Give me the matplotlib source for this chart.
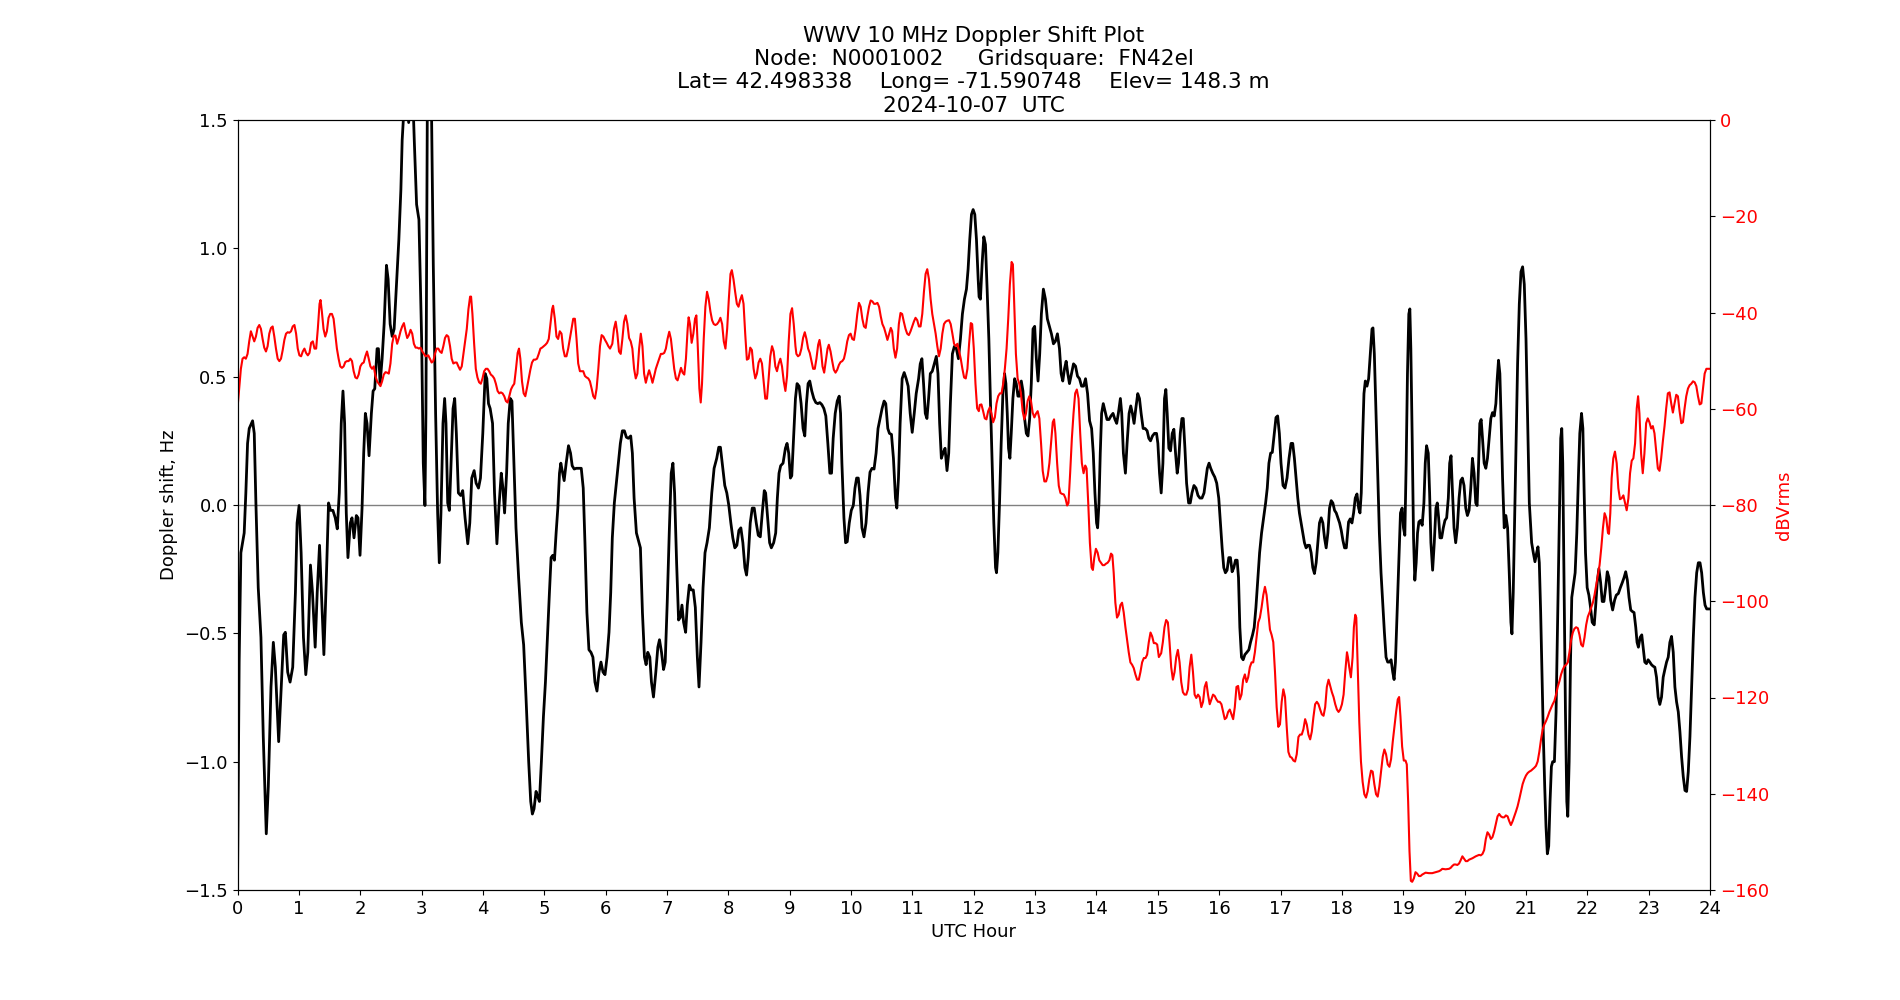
# WWV 10 MHz Doppler shift and received power over one UTC day
import matplotlib
matplotlib.use('Agg')
import matplotlib.pyplot as plt
import numpy as np

plt.rcParams['font.size'] = 13

title_lines = ['WWV 10 MHz Doppler Shift Plot',
               'Node:  N0001002     Gridsquare:  FN42el',
               'Lat= 42.498338    Long= -71.590748    Elev= 148.3 m',
               '2024-10-07  UTC']

hour_ticks = list(range(0, 25))

# (UTC hour, Doppler shift Hz)
doppler_pts = [
    (0.000, -1.49), (0.027, -0.61), (0.055, -0.186), (0.082, -0.147), (0.109, -0.109), (0.136, 0.047),
    (0.164, 0.240), (0.191, 0.298), (0.246, 0.328), (0.273, 0.279), (0.300, 0.008), (0.338, -0.322),
    (0.382, -0.516), (0.420, -0.903), (0.469, -1.281), (0.502, -1.097), (0.546, -0.709), (0.584, -0.535),
    (0.617, -0.632), (0.671, -0.922), (0.709, -0.729), (0.753, -0.506), (0.780, -0.496), (0.818, -0.651),
    (0.857, -0.690), (0.900, -0.632), (0.944, -0.341), (0.971, -0.070), (1.004, -0.002), (1.037, -0.186),
    (1.075, -0.516), (1.113, -0.661), (1.146, -0.574), (1.189, -0.234), (1.222, -0.341), (1.266, -0.554),
    (1.299, -0.341), (1.337, -0.157), (1.375, -0.380), (1.408, -0.583), (1.446, -0.302), (1.484, 0.008),
    (1.517, -0.021), (1.555, -0.021), (1.593, -0.050), (1.626, -0.093), (1.659, 0.047), (1.691, 0.318),
    (1.719, 0.444), (1.746, 0.318), (1.773, -0.031), (1.800, -0.205), (1.839, -0.070), (1.866, -0.050),
    (1.899, -0.128), (1.937, -0.041), (1.964, -0.050), (1.997, -0.196), (2.030, -0.012), (2.057, 0.202),
    (2.084, 0.357), (2.111, 0.318), (2.144, 0.192), (2.182, 0.357), (2.210, 0.444), (2.237, 0.453),
    (2.275, 0.609), (2.297, 0.609), (2.324, 0.473), (2.357, 0.570), (2.390, 0.705), (2.428, 0.934),
    (2.455, 0.880), (2.488, 0.705), (2.521, 0.657), (2.553, 0.686), (2.592, 0.860), (2.630, 1.035),
    (2.663, 1.229), (2.684, 1.422), (2.717, 1.56), (2.750, 1.62), (2.790, 1.49), (2.830, 1.62),
    (2.862, 1.56), (2.881, 1.422), (2.919, 1.171), (2.957, 1.112), (3.001, 0.647), (3.028, 0.163),
    (3.055, -0.002), (3.071, 0.357), (3.093, 1.500), (3.125, 1.65), (3.164, 1.500), (3.191, 0.938),
    (3.229, 0.357), (3.262, -0.031), (3.289, -0.225), (3.316, -0.031), (3.349, 0.318), (3.376, 0.415),
    (3.398, 0.318), (3.426, 0.008), (3.453, -0.021), (3.480, 0.163), (3.513, 0.376), (3.540, 0.415),
    (3.567, 0.279), (3.600, 0.047), (3.638, 0.037), (3.671, 0.056), (3.709, -0.050), (3.753, -0.151),
    (3.786, -0.070), (3.818, 0.105), (3.857, 0.134), (3.889, 0.085), (3.928, 0.066), (3.960, 0.105),
    (3.998, 0.279), (4.037, 0.512), (4.064, 0.492), (4.091, 0.395), (4.118, 0.376), (4.157, 0.318),
    (4.189, 0.047), (4.228, -0.151), (4.260, -0.012), (4.299, 0.124), (4.326, 0.066), (4.353, -0.031),
    (4.386, 0.124), (4.413, 0.318), (4.446, 0.415), (4.473, 0.405), (4.506, 0.163), (4.539, -0.089),
    (4.582, -0.283), (4.626, -0.457), (4.664, -0.545), (4.702, -0.748), (4.746, -1.000), (4.779, -1.155),
    (4.806, -1.204), (4.833, -1.184), (4.866, -1.116), (4.893, -1.136), (4.921, -1.155), (4.953, -1.000),
    (4.986, -0.826), (5.019, -0.690), (5.051, -0.516), (5.084, -0.341), (5.111, -0.205), (5.139, -0.196),
    (5.166, -0.215), (5.193, -0.109), (5.221, -0.012), (5.248, 0.124), (5.270, 0.163), (5.292, 0.134),
    (5.324, 0.095), (5.357, 0.163), (5.395, 0.231), (5.428, 0.202), (5.455, 0.153), (5.488, 0.140),
    (5.521, 0.143), (5.564, 0.143), (5.603, 0.143), (5.635, 0.066), (5.663, -0.147), (5.695, -0.419),
    (5.728, -0.564), (5.761, -0.574), (5.793, -0.593), (5.826, -0.690), (5.859, -0.725), (5.892, -0.651),
    (5.924, -0.612), (5.957, -0.651), (5.990, -0.661), (6.023, -0.593), (6.055, -0.496), (6.083, -0.341),
    (6.109, -0.128), (6.142, 0.008), (6.175, 0.085), (6.207, 0.163), (6.240, 0.240), (6.273, 0.289),
    (6.306, 0.289), (6.338, 0.264), (6.371, 0.260), (6.409, 0.269), (6.436, 0.202), (6.464, 0.027),
    (6.502, -0.109), (6.535, -0.138), (6.567, -0.167), (6.600, -0.419), (6.633, -0.593), (6.660, -0.622),
    (6.687, -0.574), (6.720, -0.593), (6.747, -0.690), (6.780, -0.748), (6.818, -0.651), (6.851, -0.554),
    (6.878, -0.525), (6.911, -0.574), (6.944, -0.641), (6.971, -0.612), (7.004, -0.380), (7.037, -0.109),
    (7.069, 0.124), (7.097, 0.163), (7.124, 0.047), (7.157, -0.225), (7.189, -0.448), (7.217, -0.438),
    (7.244, -0.390), (7.271, -0.457), (7.304, -0.496), (7.331, -0.390), (7.364, -0.312), (7.397, -0.331),
    (7.429, -0.331), (7.462, -0.399), (7.495, -0.593), (7.522, -0.709), (7.555, -0.535), (7.588, -0.322),
    (7.620, -0.186), (7.653, -0.147), (7.691, -0.089), (7.730, 0.047), (7.768, 0.143), (7.811, 0.182),
    (7.844, 0.225), (7.871, 0.225), (7.910, 0.143), (7.942, 0.076), (7.975, 0.047), (8.008, -0.002),
    (8.041, -0.070), (8.073, -0.128), (8.106, -0.167), (8.139, -0.157), (8.172, -0.099), (8.204, -0.089),
    (8.237, -0.147), (8.270, -0.244), (8.297, -0.273), (8.324, -0.205), (8.357, -0.070), (8.390, -0.012),
    (8.422, -0.012), (8.455, -0.070), (8.488, -0.118), (8.521, -0.124), (8.553, -0.031), (8.586, 0.056),
    (8.608, 0.047), (8.641, -0.050), (8.673, -0.147), (8.701, -0.167), (8.739, -0.147), (8.772, -0.109),
    (8.799, 0.027), (8.826, 0.124), (8.853, 0.153), (8.892, 0.163), (8.930, 0.221), (8.957, 0.240),
    (8.984, 0.202), (9.012, 0.105), (9.034, 0.114), (9.066, 0.279), (9.094, 0.415), (9.120, 0.473),
    (9.153, 0.463), (9.186, 0.395), (9.218, 0.298), (9.246, 0.269), (9.273, 0.395), (9.300, 0.473),
    (9.327, 0.483), (9.360, 0.444), (9.393, 0.415), (9.426, 0.399), (9.458, 0.395), (9.491, 0.399),
    (9.524, 0.391), (9.557, 0.376), (9.589, 0.347), (9.622, 0.240), (9.655, 0.124), (9.682, 0.124),
    (9.709, 0.260), (9.742, 0.357), (9.775, 0.405), (9.807, 0.424), (9.829, 0.357), (9.851, 0.163),
    (9.884, -0.050), (9.911, -0.147), (9.938, -0.143), (9.971, -0.070), (10.004, -0.021), (10.037, -0.002),
    (10.064, 0.066), (10.091, 0.105), (10.118, 0.105), (10.146, 0.037), (10.178, -0.089), (10.211, -0.124),
    (10.244, -0.070), (10.277, 0.047), (10.309, 0.128), (10.342, 0.143), (10.375, 0.140), (10.408, 0.202),
    (10.440, 0.298), (10.473, 0.337), (10.506, 0.376), (10.539, 0.405), (10.566, 0.395), (10.599, 0.298),
    (10.626, 0.279), (10.659, 0.275), (10.691, 0.182), (10.724, 0.027), (10.746, -0.012), (10.773, 0.105),
    (10.800, 0.318), (10.833, 0.492), (10.866, 0.516), (10.899, 0.492), (10.931, 0.463), (10.964, 0.357),
    (10.997, 0.283), (11.030, 0.357), (11.062, 0.434), (11.101, 0.492), (11.128, 0.550), (11.155, 0.570),
    (11.182, 0.473), (11.210, 0.357), (11.237, 0.337), (11.264, 0.415), (11.292, 0.512), (11.324, 0.521),
    (11.357, 0.550), (11.390, 0.579), (11.417, 0.512), (11.444, 0.318), (11.472, 0.182), (11.499, 0.202),
    (11.532, 0.221), (11.564, 0.134), (11.592, 0.202), (11.619, 0.395), (11.652, 0.589), (11.684, 0.618),
    (11.717, 0.609), (11.750, 0.570), (11.783, 0.647), (11.815, 0.744), (11.848, 0.802), (11.881, 0.841),
    (11.908, 0.919), (11.935, 1.035), (11.963, 1.132), (11.990, 1.151), (12.017, 1.132), (12.044, 1.035),
    (12.072, 0.880), (12.087, 0.811), (12.109, 0.802), (12.136, 0.938), (12.164, 1.045), (12.191, 1.015),
    (12.218, 0.841), (12.246, 0.647), (12.273, 0.395), (12.300, 0.163), (12.327, -0.070), (12.355, -0.244),
    (12.371, -0.264), (12.393, -0.186), (12.420, 0.008), (12.447, 0.240), (12.475, 0.434), (12.502, 0.512),
    (12.524, 0.473), (12.546, 0.357), (12.567, 0.221), (12.589, 0.182), (12.611, 0.279), (12.638, 0.415),
    (12.666, 0.492), (12.693, 0.473), (12.720, 0.424), (12.747, 0.424), (12.775, 0.483), (12.802, 0.444),
    (12.829, 0.337), (12.857, 0.279), (12.884, 0.269), (12.911, 0.337), (12.938, 0.473), (12.966, 0.686),
    (12.993, 0.696), (13.020, 0.570), (13.048, 0.483), (13.075, 0.589), (13.102, 0.744), (13.135, 0.841),
    (13.168, 0.802), (13.200, 0.725), (13.233, 0.696), (13.266, 0.667), (13.299, 0.628), (13.331, 0.638),
    (13.364, 0.667), (13.397, 0.609), (13.424, 0.512), (13.451, 0.483), (13.479, 0.531), (13.506, 0.560),
    (13.533, 0.512), (13.560, 0.473), (13.593, 0.512), (13.626, 0.550), (13.659, 0.541), (13.691, 0.502),
    (13.724, 0.492), (13.757, 0.463), (13.790, 0.463), (13.822, 0.492), (13.855, 0.434), (13.888, 0.328),
    (13.921, 0.298), (13.948, 0.202), (13.975, 0.047), (14.002, -0.070), (14.019, -0.089), (14.041, 0.008),
    (14.062, 0.202), (14.084, 0.357), (14.111, 0.395), (14.139, 0.366), (14.172, 0.333), (14.204, 0.333),
    (14.237, 0.347), (14.270, 0.357), (14.302, 0.333), (14.330, 0.318), (14.357, 0.357), (14.390, 0.415),
    (14.412, 0.357), (14.439, 0.202), (14.472, 0.124), (14.499, 0.240), (14.532, 0.357), (14.559, 0.386),
    (14.586, 0.357), (14.613, 0.318), (14.641, 0.376), (14.673, 0.434), (14.701, 0.415), (14.728, 0.357),
    (14.761, 0.298), (14.793, 0.298), (14.826, 0.289), (14.853, 0.260), (14.881, 0.250), (14.913, 0.269),
    (14.946, 0.279), (14.979, 0.279), (15.001, 0.240), (15.028, 0.124), (15.055, 0.047), (15.083, 0.163),
    (15.109, 0.415), (15.131, 0.450), (15.153, 0.357), (15.180, 0.221), (15.207, 0.211), (15.235, 0.279),
    (15.262, 0.295), (15.289, 0.202), (15.316, 0.124), (15.338, 0.163), (15.366, 0.279), (15.393, 0.337),
    (15.415, 0.337), (15.442, 0.221), (15.469, 0.085), (15.502, 0.008), (15.529, 0.008), (15.557, 0.047),
    (15.589, 0.076), (15.622, 0.066), (15.655, 0.037), (15.687, 0.027), (15.720, 0.027), (15.753, 0.047),
    (15.780, 0.095), (15.807, 0.143), (15.835, 0.163), (15.862, 0.143), (15.895, 0.124), (15.928, 0.109),
    (15.960, 0.085), (15.993, 0.027), (16.020, -0.070), (16.048, -0.167), (16.075, -0.244), (16.102, -0.264),
    (16.129, -0.254), (16.157, -0.205), (16.184, -0.205), (16.211, -0.260), (16.239, -0.244), (16.266, -0.215),
    (16.293, -0.215), (16.315, -0.283), (16.337, -0.477), (16.364, -0.593), (16.391, -0.603), (16.419, -0.583),
    (16.451, -0.574), (16.484, -0.564), (16.511, -0.535), (16.544, -0.506), (16.571, -0.477), (16.599, -0.399),
    (16.626, -0.302), (16.659, -0.186), (16.691, -0.109), (16.724, -0.050), (16.757, 0.008), (16.784, 0.066),
    (16.811, 0.163), (16.839, 0.202), (16.866, 0.205), (16.899, 0.279), (16.926, 0.341), (16.953, 0.347),
    (16.981, 0.279), (17.008, 0.163), (17.041, 0.076), (17.073, 0.066), (17.106, 0.105), (17.139, 0.182),
    (17.172, 0.240), (17.199, 0.240), (17.226, 0.182), (17.253, 0.105), (17.281, 0.027), (17.308, -0.031),
    (17.335, -0.070), (17.362, -0.109), (17.390, -0.147), (17.417, -0.167), (17.444, -0.157), (17.472, -0.157),
    (17.499, -0.186), (17.526, -0.244), (17.553, -0.267), (17.581, -0.225), (17.608, -0.147), (17.635, -0.070),
    (17.663, -0.050), (17.690, -0.070), (17.717, -0.128), (17.744, -0.167), (17.772, -0.109), (17.799, -0.012),
    (17.826, 0.017), (17.853, 0.008), (17.881, -0.021), (17.908, -0.031), (17.935, -0.050), (17.963, -0.070),
    (17.990, -0.099), (18.017, -0.138), (18.044, -0.167), (18.072, -0.167), (18.109, -0.066), (18.136, -0.054),
    (18.164, -0.070), (18.191, -0.031), (18.218, 0.027), (18.246, 0.043), (18.273, -0.012), (18.295, -0.031),
    (18.316, 0.047), (18.338, 0.260), (18.360, 0.434), (18.382, 0.483), (18.409, 0.463), (18.436, 0.492),
    (18.464, 0.589), (18.491, 0.686), (18.507, 0.690), (18.529, 0.589), (18.557, 0.357), (18.584, 0.124),
    (18.611, -0.109), (18.638, -0.264), (18.666, -0.380), (18.693, -0.496), (18.720, -0.593), (18.747, -0.612),
    (18.775, -0.612), (18.802, -0.603), (18.829, -0.651), (18.851, -0.680), (18.873, -0.612), (18.900, -0.419),
    (18.928, -0.225), (18.955, -0.031), (18.982, -0.012), (19.004, -0.089), (19.026, -0.118), (19.048, 0.163),
    (19.069, 0.512), (19.091, 0.744), (19.108, 0.764), (19.124, 0.609), (19.146, 0.260), (19.168, -0.128),
    (19.189, -0.293), (19.211, -0.225), (19.233, -0.109), (19.255, -0.066), (19.282, -0.060), (19.309, -0.079),
    (19.337, 0.008), (19.359, 0.163), (19.380, 0.231), (19.408, 0.202), (19.430, 0.047), (19.451, -0.147),
    (19.479, -0.254), (19.506, -0.147), (19.533, -0.012), (19.555, 0.008), (19.577, -0.050), (19.599, -0.128),
    (19.626, -0.128), (19.653, -0.089), (19.680, -0.060), (19.708, -0.050), (19.735, 0.027), (19.757, 0.163),
    (19.779, 0.192), (19.800, 0.066), (19.828, -0.089), (19.855, -0.147), (19.882, -0.089), (19.910, 0.027),
    (19.937, 0.095), (19.964, 0.105), (19.991, 0.076), (20.019, -0.012), (20.046, -0.041), (20.073, -0.021),
    (20.101, 0.066), (20.128, 0.182), (20.155, 0.124), (20.182, 0.008), (20.204, -0.002), (20.226, 0.143),
    (20.248, 0.318), (20.270, 0.333), (20.292, 0.260), (20.319, 0.163), (20.346, 0.143), (20.373, 0.182),
    (20.401, 0.260), (20.428, 0.337), (20.455, 0.360), (20.483, 0.347), (20.510, 0.395), (20.532, 0.492),
    (20.553, 0.564), (20.575, 0.512), (20.597, 0.318), (20.619, 0.105), (20.646, -0.089), (20.673, -0.041),
    (20.701, -0.089), (20.728, -0.264), (20.755, -0.457), (20.772, -0.502), (20.793, -0.341), (20.815, -0.070),
    (20.837, 0.202), (20.864, 0.550), (20.892, 0.783), (20.919, 0.909), (20.946, 0.928), (20.973, 0.860),
    (21.001, 0.647), (21.028, 0.318), (21.055, 0.008), (21.083, -0.109), (21.093, -0.147), (21.120, -0.186),
    (21.147, -0.221), (21.175, -0.186), (21.196, -0.163), (21.218, -0.225), (21.240, -0.419), (21.262, -0.671),
    (21.284, -0.903), (21.306, -1.097), (21.327, -1.252), (21.349, -1.359), (21.371, -1.329), (21.393, -1.155),
    (21.415, -1.019), (21.436, -1.000), (21.464, -1.000), (21.491, -0.806), (21.518, -0.419), (21.546, -0.031),
    (21.567, 0.260), (21.584, 0.298), (21.600, 0.163), (21.622, -0.322), (21.644, -0.806), (21.666, -1.155),
    (21.682, -1.213), (21.704, -1.000), (21.726, -0.612), (21.747, -0.360), (21.775, -0.312), (21.802, -0.264),
    (21.829, -0.109), (21.857, 0.124), (21.878, 0.279), (21.906, 0.357), (21.928, 0.298), (21.949, 0.047),
    (21.971, -0.186), (21.998, -0.322), (22.026, -0.351), (22.053, -0.399), (22.080, -0.457), (22.113, -0.467),
    (22.135, -0.399), (22.162, -0.302), (22.189, -0.248), (22.217, -0.302), (22.244, -0.376), (22.271, -0.376),
    (22.299, -0.322), (22.326, -0.260), (22.353, -0.283), (22.380, -0.370), (22.413, -0.409), (22.446, -0.370),
    (22.473, -0.351), (22.506, -0.345), (22.539, -0.322), (22.571, -0.302), (22.599, -0.283), (22.626, -0.260),
    (22.653, -0.293), (22.680, -0.360), (22.708, -0.409), (22.735, -0.415), (22.762, -0.419), (22.790, -0.477),
    (22.811, -0.535), (22.833, -0.554), (22.861, -0.516), (22.888, -0.506), (22.910, -0.554), (22.937, -0.612),
    (22.964, -0.618), (22.991, -0.603), (23.019, -0.612), (23.046, -0.622), (23.073, -0.628), (23.101, -0.632),
    (23.128, -0.671), (23.155, -0.748), (23.182, -0.777), (23.210, -0.748), (23.237, -0.671), (23.264, -0.641),
    (23.292, -0.612), (23.319, -0.593), (23.346, -0.535), (23.373, -0.512), (23.401, -0.574), (23.428, -0.709),
    (23.455, -0.767), (23.483, -0.806), (23.510, -0.884), (23.537, -0.981), (23.564, -1.058), (23.592, -1.112),
    (23.619, -1.116), (23.646, -1.039), (23.673, -0.903), (23.701, -0.709), (23.728, -0.516), (23.755, -0.360),
    (23.783, -0.264), (23.810, -0.225), (23.837, -0.225), (23.864, -0.264), (23.892, -0.341), (23.919, -0.390),
    (23.946, -0.405), (24.000, -0.405),
]

# (UTC hour, received level dBVrms)
power_pts = [
    (0.000, -59.9), (0.027, -55.8), (0.055, -51.7), (0.082, -49.6), (0.109, -49.3), (0.136, -49.6),
    (0.164, -48.6), (0.191, -46.0), (0.218, -43.9), (0.246, -45.0), (0.273, -46.0), (0.300, -45.0),
    (0.327, -43.2), (0.355, -42.6), (0.382, -43.4), (0.409, -45.5), (0.436, -47.3), (0.464, -48.1),
    (0.491, -47.0), (0.518, -44.4), (0.546, -43.2), (0.573, -42.9), (0.600, -45.0), (0.627, -47.5),
    (0.655, -49.6), (0.682, -50.1), (0.709, -49.6), (0.737, -47.8), (0.764, -45.7), (0.791, -44.4),
    (0.818, -44.1), (0.846, -44.2), (0.873, -43.9), (0.900, -42.9), (0.928, -42.6), (0.955, -44.4),
    (0.982, -47.5), (1.009, -48.9), (1.037, -49.1), (1.064, -48.1), (1.091, -47.5), (1.118, -48.4),
    (1.146, -48.9), (1.173, -48.4), (1.200, -46.3), (1.228, -46.0), (1.255, -47.5), (1.282, -47.5),
    (1.309, -43.4), (1.337, -38.2), (1.353, -37.4), (1.375, -39.8), (1.402, -43.4), (1.430, -45.0),
    (1.457, -43.9), (1.484, -41.1), (1.511, -40.3), (1.539, -40.3), (1.566, -41.3), (1.593, -44.4),
    (1.620, -47.5), (1.648, -49.6), (1.675, -51.2), (1.702, -51.5), (1.730, -51.2), (1.757, -50.3),
    (1.784, -50.1), (1.811, -50.1), (1.839, -49.6), (1.866, -50.1), (1.893, -52.2), (1.921, -53.5),
    (1.948, -53.7), (1.975, -52.9), (2.002, -51.2), (2.030, -50.6), (2.057, -50.4), (2.084, -49.1),
    (2.111, -48.1), (2.139, -49.6), (2.166, -51.2), (2.193, -51.7), (2.221, -51.2), (2.248, -53.2),
    (2.275, -54.3), (2.302, -54.8), (2.330, -55.3), (2.357, -54.3), (2.384, -52.9), (2.412, -52.4),
    (2.439, -52.5), (2.466, -52.7), (2.493, -50.6), (2.521, -46.5), (2.548, -44.8), (2.575, -44.8),
    (2.602, -46.5), (2.630, -45.3), (2.657, -43.9), (2.684, -42.9), (2.712, -42.2), (2.739, -43.9),
    (2.766, -45.3), (2.793, -44.7), (2.821, -43.6), (2.848, -44.4), (2.875, -46.5), (2.903, -47.3),
    (2.930, -47.3), (2.957, -47.5), (2.984, -47.3), (3.012, -48.1), (3.039, -48.6), (3.066, -49.1),
    (3.109, -48.9), (3.136, -49.6), (3.164, -50.4), (3.191, -50.1), (3.218, -48.6), (3.246, -47.5),
    (3.273, -47.5), (3.300, -48.1), (3.327, -48.4), (3.355, -47.0), (3.382, -45.3), (3.409, -44.7),
    (3.436, -45.0), (3.464, -47.0), (3.491, -49.6), (3.518, -50.6), (3.546, -50.4), (3.573, -50.4),
    (3.600, -51.2), (3.627, -51.9), (3.655, -51.2), (3.682, -48.6), (3.709, -46.0), (3.737, -43.4),
    (3.764, -39.3), (3.791, -36.7), (3.807, -36.7), (3.829, -40.3), (3.857, -46.5), (3.884, -51.7),
    (3.911, -53.5), (3.938, -54.5), (3.966, -54.8), (3.993, -53.7), (4.020, -52.2), (4.048, -51.7),
    (4.075, -51.7), (4.102, -52.2), (4.129, -52.9), (4.157, -53.2), (4.184, -53.7), (4.211, -54.8),
    (4.239, -56.3), (4.266, -56.8), (4.293, -56.6), (4.320, -56.8), (4.348, -57.4), (4.375, -58.4),
    (4.402, -58.7), (4.430, -57.4), (4.457, -56.0), (4.484, -55.3), (4.511, -54.8), (4.539, -51.7),
    (4.566, -48.4), (4.588, -47.5), (4.610, -49.6), (4.637, -54.3), (4.664, -56.8), (4.691, -57.4),
    (4.719, -55.6), (4.746, -53.7), (4.773, -51.9), (4.800, -50.4), (4.828, -49.8), (4.855, -49.8),
    (4.882, -49.6), (4.910, -48.6), (4.937, -47.5), (4.964, -47.3), (4.991, -47.0), (5.019, -46.7),
    (5.046, -46.3), (5.073, -45.5), (5.101, -42.4), (5.128, -39.3), (5.144, -38.6), (5.172, -41.3),
    (5.199, -45.0), (5.226, -45.5), (5.253, -43.9), (5.281, -44.4), (5.308, -47.5), (5.335, -49.1),
    (5.362, -49.1), (5.390, -47.5), (5.417, -45.5), (5.444, -43.4), (5.472, -41.3), (5.499, -41.3),
    (5.526, -45.5), (5.553, -50.6), (5.581, -52.2), (5.608, -52.2), (5.635, -52.2), (5.663, -53.2),
    (5.690, -53.5), (5.717, -53.7), (5.744, -54.3), (5.772, -55.8), (5.799, -57.4), (5.826, -57.9),
    (5.853, -55.8), (5.881, -51.7), (5.908, -47.0), (5.935, -44.7), (5.963, -45.0), (5.990, -45.7),
    (6.017, -46.3), (6.044, -47.0), (6.072, -47.5), (6.109, -46.5), (6.136, -43.4), (6.164, -41.9),
    (6.191, -44.4), (6.218, -48.1), (6.246, -48.6), (6.273, -45.5), (6.300, -41.9), (6.327, -40.6),
    (6.355, -42.4), (6.382, -45.3), (6.409, -46.0), (6.436, -47.5), (6.464, -51.7), (6.491, -53.7),
    (6.518, -52.7), (6.546, -47.5), (6.573, -44.4), (6.600, -47.0), (6.627, -52.7), (6.655, -54.6),
    (6.682, -53.2), (6.709, -52.0), (6.737, -53.2), (6.764, -54.6), (6.791, -53.2), (6.818, -51.7),
    (6.846, -50.6), (6.873, -49.6), (6.900, -48.6), (6.928, -48.6), (6.955, -48.4), (6.982, -47.5),
    (7.009, -45.5), (7.037, -44.0), (7.064, -45.5), (7.091, -48.6), (7.118, -51.7), (7.146, -53.7),
    (7.173, -54.1), (7.200, -52.9), (7.228, -51.5), (7.255, -52.5), (7.282, -52.9), (7.309, -49.6),
    (7.337, -43.4), (7.353, -41.0), (7.375, -42.4), (7.402, -46.3), (7.430, -44.4), (7.457, -41.3),
    (7.479, -40.6), (7.500, -46.5), (7.528, -55.8), (7.550, -58.7), (7.571, -54.8), (7.599, -45.5),
    (7.626, -38.8), (7.653, -35.7), (7.680, -37.2), (7.708, -39.8), (7.735, -41.6), (7.762, -42.4),
    (7.790, -42.6), (7.817, -42.4), (7.844, -41.9), (7.871, -41.1), (7.899, -42.4), (7.926, -46.0),
    (7.953, -47.5), (7.981, -43.4), (8.008, -37.2), (8.035, -32.0), (8.057, -31.2), (8.084, -33.1),
    (8.111, -35.7), (8.139, -38.2), (8.166, -38.8), (8.193, -37.4), (8.221, -36.4), (8.248, -38.2),
    (8.275, -44.4), (8.302, -49.8), (8.330, -49.6), (8.357, -47.3), (8.384, -47.8), (8.412, -51.7),
    (8.439, -53.7), (8.466, -52.7), (8.493, -50.4), (8.521, -49.6), (8.548, -50.6), (8.575, -54.3),
    (8.602, -57.9), (8.630, -57.9), (8.657, -53.7), (8.684, -49.1), (8.712, -47.0), (8.739, -48.1),
    (8.766, -51.2), (8.793, -52.2), (8.821, -50.6), (8.848, -49.6), (8.875, -51.2), (8.903, -54.3),
    (8.930, -56.3), (8.957, -53.2), (8.984, -46.0), (9.012, -40.3), (9.039, -39.1), (9.066, -42.4),
    (9.094, -47.0), (9.109, -48.6), (9.136, -49.1), (9.164, -48.8), (9.191, -47.5), (9.218, -45.3),
    (9.246, -44.1), (9.273, -45.5), (9.300, -47.5), (9.327, -48.4), (9.355, -50.1), (9.382, -51.7),
    (9.409, -51.7), (9.436, -49.6), (9.464, -46.7), (9.486, -45.7), (9.507, -47.5), (9.535, -51.2),
    (9.562, -52.5), (9.589, -50.1), (9.617, -47.5), (9.638, -46.7), (9.666, -48.1), (9.693, -50.1),
    (9.720, -51.9), (9.747, -52.5), (9.775, -51.9), (9.802, -50.9), (9.829, -50.3), (9.857, -50.1),
    (9.884, -49.6), (9.911, -48.1), (9.938, -46.0), (9.966, -44.7), (9.993, -44.4), (10.020, -45.5),
    (10.048, -45.7), (10.075, -43.4), (10.102, -40.3), (10.129, -38.0), (10.157, -38.8), (10.184, -41.3),
    (10.211, -42.9), (10.239, -43.2), (10.266, -40.8), (10.293, -38.8), (10.320, -37.5), (10.348, -37.7),
    (10.375, -38.2), (10.402, -38.2), (10.430, -38.0), (10.457, -38.8), (10.484, -40.8), (10.511, -42.4),
    (10.539, -43.2), (10.566, -44.4), (10.593, -45.7), (10.621, -44.4), (10.648, -43.2), (10.670, -43.9),
    (10.697, -47.5), (10.724, -49.4), (10.751, -47.5), (10.779, -42.4), (10.806, -40.1), (10.833, -40.3),
    (10.860, -41.9), (10.888, -43.4), (10.915, -44.4), (10.942, -44.7), (10.970, -43.9), (10.997, -42.9),
    (11.024, -41.9), (11.051, -41.1), (11.079, -41.6), (11.106, -42.9), (11.133, -42.9), (11.161, -40.3),
    (11.188, -35.7), (11.215, -32.0), (11.242, -31.0), (11.270, -33.1), (11.297, -37.2), (11.324, -40.3),
    (11.352, -42.4), (11.379, -44.4), (11.406, -47.0), (11.433, -49.1), (11.461, -47.5), (11.488, -44.4),
    (11.515, -42.4), (11.542, -41.9), (11.570, -41.7), (11.597, -41.6), (11.624, -42.4), (11.652, -44.4),
    (11.679, -46.5), (11.706, -47.0), (11.733, -46.5), (11.761, -48.1), (11.788, -49.6), (11.815, -51.7),
    (11.843, -53.5), (11.870, -53.7), (11.897, -51.7), (11.924, -46.5), (11.952, -42.2), (11.974, -42.4),
    (12.001, -47.5), (12.028, -54.8), (12.055, -59.9), (12.083, -60.5), (12.098, -59.2), (12.125, -59.1),
    (12.153, -60.5), (12.180, -62.0), (12.207, -62.2), (12.235, -60.5), (12.262, -59.7), (12.289, -61.0),
    (12.316, -62.8), (12.344, -61.8), (12.371, -58.9), (12.398, -57.4), (12.426, -56.8), (12.453, -56.8),
    (12.480, -54.8), (12.507, -51.7), (12.535, -47.5), (12.562, -41.3), (12.589, -34.1), (12.617, -29.5),
    (12.638, -30.0), (12.660, -38.2), (12.687, -48.6), (12.715, -53.7), (12.742, -54.8), (12.769, -56.8),
    (12.797, -60.5), (12.824, -62.2), (12.851, -61.0), (12.878, -58.4), (12.906, -57.4), (12.933, -58.4),
    (12.960, -60.8), (12.988, -61.8), (13.015, -61.0), (13.042, -60.5), (13.069, -62.0), (13.097, -67.2),
    (13.124, -72.9), (13.151, -75.1), (13.179, -75.1), (13.206, -73.9), (13.233, -71.3), (13.260, -67.2),
    (13.288, -62.8), (13.309, -62.2), (13.331, -65.1), (13.359, -71.3), (13.386, -76.0), (13.413, -77.5),
    (13.440, -77.7), (13.468, -77.8), (13.495, -78.6), (13.522, -80.1), (13.544, -79.6), (13.571, -73.4),
    (13.599, -66.2), (13.626, -61.0), (13.653, -56.8), (13.680, -56.0), (13.708, -57.9), (13.735, -65.1),
    (13.762, -71.3), (13.790, -73.4), (13.817, -71.8), (13.839, -72.4), (13.866, -79.6), (13.893, -87.9),
    (13.921, -93.0), (13.942, -93.5), (13.964, -91.0), (13.991, -89.1), (14.019, -89.9), (14.046, -91.5),
    (14.073, -92.0), (14.101, -92.5), (14.128, -92.5), (14.155, -92.2), (14.182, -92.0), (14.210, -91.5),
    (14.237, -90.1), (14.259, -90.4), (14.281, -94.1), (14.308, -100.3), (14.335, -103.4), (14.362, -102.8),
    (14.390, -100.8), (14.417, -100.3), (14.444, -102.3), (14.472, -105.4), (14.499, -108.0), (14.526, -110.6),
    (14.553, -112.7), (14.581, -113.2), (14.608, -113.9), (14.635, -115.2), (14.663, -116.3), (14.690, -116.3),
    (14.717, -114.7), (14.744, -112.7), (14.772, -111.8), (14.799, -111.8), (14.826, -111.1), (14.853, -108.5),
    (14.881, -106.5), (14.908, -107.3), (14.935, -108.7), (14.963, -108.7), (14.990, -109.0), (15.017, -111.6),
    (15.055, -110.8), (15.082, -108.5), (15.109, -105.4), (15.136, -103.9), (15.164, -104.4), (15.191, -108.5),
    (15.218, -113.7), (15.246, -116.3), (15.273, -114.7), (15.300, -111.6), (15.327, -110.1), (15.355, -112.7),
    (15.382, -116.8), (15.409, -118.9), (15.436, -119.4), (15.464, -119.4), (15.491, -118.3), (15.518, -113.7),
    (15.546, -111.1), (15.573, -114.7), (15.600, -119.4), (15.627, -120.1), (15.655, -119.4), (15.682, -119.9),
    (15.709, -122.0), (15.737, -120.9), (15.764, -117.8), (15.791, -116.8), (15.818, -119.4), (15.846, -121.4),
    (15.873, -120.4), (15.900, -119.4), (15.928, -119.7), (15.955, -120.4), (15.982, -120.9), (16.009, -120.9),
    (16.037, -121.4), (16.064, -123.0), (16.091, -124.5), (16.118, -124.2), (16.146, -123.0), (16.173, -122.5),
    (16.200, -123.5), (16.228, -124.5), (16.255, -122.0), (16.282, -117.8), (16.309, -117.6), (16.337, -120.4),
    (16.364, -119.4), (16.391, -116.3), (16.419, -115.2), (16.446, -116.8), (16.473, -115.8), (16.500, -113.7),
    (16.528, -112.7), (16.555, -112.7), (16.582, -110.6), (16.609, -107.5), (16.637, -104.4), (16.664, -103.4),
    (16.691, -101.3), (16.719, -98.7), (16.746, -97.0), (16.773, -98.7), (16.800, -102.3), (16.828, -105.9),
    (16.855, -107.0), (16.882, -108.5), (16.910, -114.7), (16.937, -122.0), (16.964, -126.1), (16.991, -125.6),
    (17.019, -120.9), (17.046, -118.3), (17.073, -119.9), (17.101, -126.1), (17.128, -131.3), (17.155, -132.3),
    (17.182, -132.5), (17.210, -133.1), (17.237, -133.3), (17.264, -131.8), (17.292, -128.2), (17.319, -127.7),
    (17.346, -127.7), (17.373, -126.6), (17.401, -124.5), (17.428, -125.6), (17.455, -127.7), (17.483, -128.7),
    (17.510, -127.1), (17.537, -124.0), (17.564, -121.4), (17.592, -120.9), (17.619, -121.4), (17.646, -122.5),
    (17.673, -123.5), (17.701, -123.8), (17.728, -122.0), (17.755, -117.8), (17.783, -116.3), (17.810, -117.6),
    (17.837, -118.9), (17.864, -119.9), (17.892, -121.4), (17.919, -122.5), (17.946, -123.0), (17.973, -122.5),
    (18.001, -121.4), (18.028, -119.4), (18.055, -114.7), (18.083, -110.6), (18.098, -111.6), (18.120, -113.7),
    (18.147, -115.8), (18.175, -111.6), (18.196, -105.4), (18.218, -102.8), (18.235, -103.4), (18.256, -112.7),
    (18.284, -125.1), (18.311, -133.3), (18.338, -137.5), (18.366, -140.1), (18.393, -140.8), (18.420, -139.5),
    (18.447, -137.0), (18.475, -135.2), (18.502, -135.4), (18.529, -138.0), (18.557, -140.1), (18.584, -140.6),
    (18.611, -138.5), (18.638, -135.4), (18.666, -132.3), (18.693, -130.8), (18.720, -131.8), (18.747, -133.9),
    (18.775, -134.4), (18.802, -132.8), (18.829, -129.2), (18.857, -126.1), (18.884, -123.0), (18.911, -120.4),
    (18.933, -119.9), (18.955, -124.0), (18.982, -130.2), (19.009, -133.1), (19.037, -133.1), (19.058, -133.9),
    (19.080, -141.6), (19.102, -151.9), (19.124, -158.1), (19.146, -158.3), (19.173, -157.6), (19.200, -156.3),
    (19.228, -156.6), (19.255, -157.1), (19.282, -157.1), (19.309, -156.8), (19.337, -156.6), (19.364, -156.4),
    (19.419, -156.5), (19.473, -156.5), (19.528, -156.3), (19.582, -156.1), (19.610, -155.9), (19.637, -155.6),
    (19.691, -155.7), (19.746, -155.6), (19.773, -155.4), (19.800, -155.0), (19.828, -154.7), (19.855, -154.7),
    (19.882, -154.8), (19.910, -154.5), (19.937, -153.8), (19.964, -153.0), (19.991, -153.5), (20.019, -154.0),
    (20.046, -154.0), (20.073, -153.7), (20.128, -153.4), (20.182, -153.0), (20.237, -152.7), (20.264, -152.8),
    (20.292, -152.5), (20.319, -151.7), (20.346, -149.4), (20.373, -148.0), (20.401, -148.5), (20.428, -149.4),
    (20.455, -149.0), (20.483, -147.8), (20.510, -146.3), (20.537, -144.7), (20.564, -144.2), (20.592, -144.7),
    (20.619, -144.9), (20.646, -144.9), (20.673, -144.5), (20.701, -144.7), (20.728, -145.7), (20.755, -146.5),
    (20.783, -145.7), (20.810, -144.7), (20.837, -143.7), (20.864, -142.6), (20.892, -141.1), (20.919, -139.5),
    (20.946, -138.0), (20.973, -137.0), (21.001, -136.2), (21.028, -135.7), (21.055, -135.4), (21.083, -135.2),
    (21.109, -134.9), (21.136, -134.6), (21.164, -134.2), (21.191, -133.3), (21.218, -131.3), (21.246, -128.7),
    (21.273, -126.6), (21.300, -125.6), (21.327, -124.9), (21.355, -124.0), (21.382, -123.0), (21.409, -122.2),
    (21.436, -121.4), (21.464, -120.7), (21.491, -119.4), (21.518, -117.8), (21.546, -116.6), (21.573, -115.2),
    (21.600, -114.2), (21.627, -113.5), (21.655, -113.2), (21.682, -112.7), (21.709, -110.6), (21.737, -108.0),
    (21.764, -106.5), (21.791, -105.7), (21.818, -105.4), (21.846, -105.6), (21.873, -107.0), (21.900, -109.0),
    (21.928, -109.4), (21.955, -107.5), (21.982, -104.9), (22.009, -103.2), (22.037, -102.3), (22.064, -101.3),
    (22.091, -100.3), (22.118, -98.7), (22.146, -96.6), (22.173, -94.6), (22.200, -92.5), (22.228, -88.9),
    (22.255, -84.8), (22.282, -81.7), (22.309, -82.7), (22.337, -85.8), (22.353, -86.0), (22.375, -81.7),
    (22.397, -74.4), (22.424, -70.3), (22.451, -68.9), (22.479, -71.3), (22.506, -76.5), (22.533, -78.8),
    (22.560, -78.6), (22.588, -78.0), (22.615, -79.6), (22.642, -81.1), (22.670, -78.6), (22.697, -73.4),
    (22.724, -70.8), (22.751, -70.3), (22.779, -67.2), (22.806, -59.9), (22.828, -57.4), (22.850, -61.0),
    (22.877, -69.3), (22.904, -73.4), (22.931, -69.3), (22.959, -63.0), (22.986, -62.0), (23.013, -62.8),
    (23.041, -64.1), (23.068, -63.6), (23.095, -65.1), (23.122, -68.7), (23.150, -72.4), (23.177, -72.9),
    (23.204, -70.3), (23.232, -66.7), (23.259, -63.6), (23.286, -59.9), (23.313, -56.8), (23.341, -56.6),
    (23.368, -58.9), (23.395, -60.8), (23.422, -58.9), (23.450, -57.1), (23.477, -57.4), (23.504, -60.5),
    (23.532, -63.0), (23.559, -62.8), (23.586, -59.9), (23.613, -57.4), (23.641, -55.8), (23.668, -55.1),
    (23.695, -54.8), (23.723, -54.3), (23.750, -54.5), (23.777, -55.3), (23.804, -57.4), (23.832, -59.1),
    (23.859, -58.9), (23.886, -55.8), (23.913, -52.7), (23.941, -51.7), (23.968, -51.7), (24.000, -51.7),
]

hours, shift = np.array(doppler_pts).T
p_hours, level = np.array(power_pts).T

fig, ax = plt.subplots(figsize=(19, 10))
ax.axhline(0, color='grey', linewidth=1)
ax.plot(hours, shift, 'k', linewidth=2)
ax.set_xlim(0, 24)
ax.set_ylim(-1.5, 1.5)
ax.set_xticks(hour_ticks)
ax.set_xlabel('UTC Hour')
ax.set_ylabel('Doppler shift, Hz')
ax.set_title('\n'.join(title_lines), fontsize='large')

ax2 = ax.twinx()
ax2.plot(p_hours, level, 'r', linewidth=1.5)
ax2.set_ylim(-160, 0)
ax2.set_ylabel('dBVrms', color='r')
ax2.tick_params(axis='y', labelcolor='r')

fig.savefig('out.png')
